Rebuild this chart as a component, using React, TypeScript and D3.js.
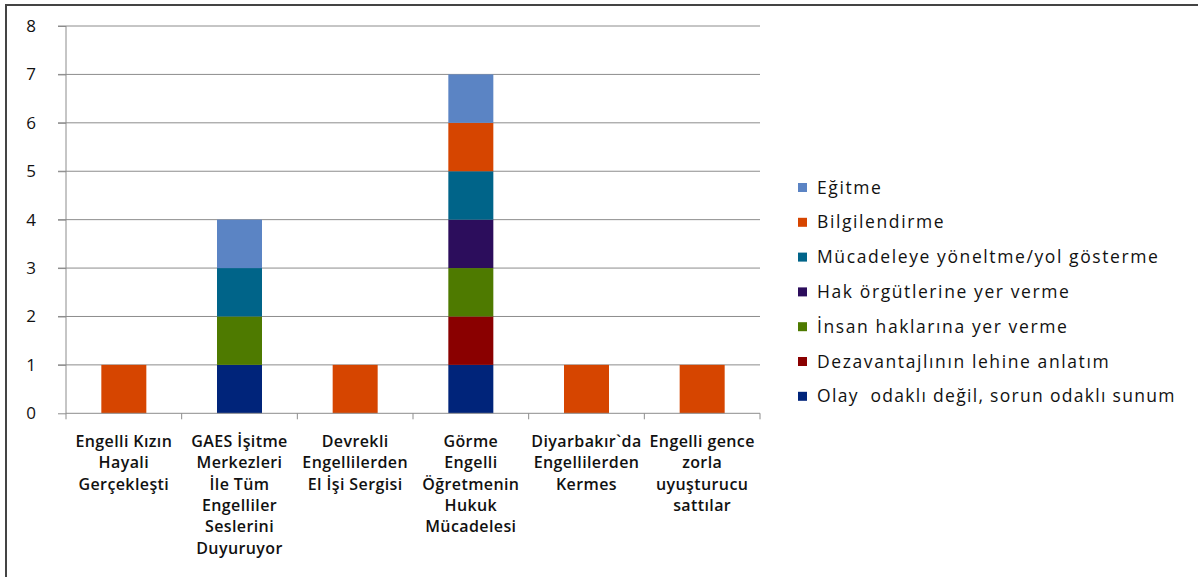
import React, { useEffect, useRef } from 'react';
import * as d3 from 'd3';

const categories = [
  'Engelli Kızın Hayali Gerçekleşti',
  'GAES İşitme Merkezleri İle Tüm Engelliler Seslerini Duyuruyor',
  'Devrekli Engellilerden El İşi Sergisi',
  'Görme Engelli Öğretmenin Hukuk Mücadelesi',
  'Diyarbakır`da Engellilerden Kermes',
  'Engelli gence zorla uyuşturucu sattılar',
];
const categoryLines = [
  ['Engelli Kızın', 'Hayali', 'Gerçekleşti'],
  ['GAES İşitme', 'Merkezleri', 'İle Tüm', 'Engelliler', 'Seslerini', 'Duyuruyor'],
  ['Devrekli', 'Engellilerden', 'El İşi Sergisi'],
  ['Görme', 'Engelli', 'Öğretmenin', 'Hukuk', 'Mücadelesi'],
  ['Diyarbakır`da', 'Engellilerden', 'Kermes'],
  ['Engelli gence', 'zorla', 'uyuşturucu', 'sattılar'],
];

// series, bottom of the stack first
const seriesNames = [
  'Olay  odaklı değil, sorun odaklı sunum',
  'Dezavantajlının lehine anlatım',
  'İnsan haklarına yer verme',
  'Hak örgütlerine yer verme',
  'Mücadeleye yöneltme/yol gösterme',
  'Bilgilendirme',
  'Eğitme',
];
const olay = [0, 1, 0, 1, 0, 0];
const dezavantaj = [0, 0, 0, 1, 0, 0];
const insan = [0, 1, 0, 1, 0, 0];
const hak = [0, 0, 0, 1, 0, 0];
const mucadele = [0, 1, 0, 1, 0, 0];
const bilgi = [1, 0, 1, 1, 1, 1];
const egitme = [0, 1, 0, 1, 0, 0];
const seriesValues = [olay, dezavantaj, insan, hak, mucadele, bilgi, egitme];
const colors = ['#00247a', '#8a0000', '#4e7a00', '#2c0d5c', '#006489', '#d64500', '#5b84c4'];
const yTicks = [0, 1, 2, 3, 4, 5, 6, 7, 8];

const W = 1199;
const H = 577;
const left = 66, right = 760, top = 26, bottom = 413.3;
const font = "'Open Sans', sans-serif";

export default function App() {
  const ref = useRef<SVGSVGElement>(null);

  useEffect(() => {
    const svg = d3.select(ref.current);
    svg.selectAll('*').remove();

    const rows = categories.map((c, i) => {
      const r: any = { cat: c };
      seriesNames.forEach((s, j) => (r[s] = seriesValues[j][i]));
      return r;
    });
    const stacked = d3.stack().keys(seriesNames)(rows);

    const x = d3.scaleBand().domain(categories).range([left, right]).paddingInner(0).paddingOuter(0);
    const y = d3.scaleLinear().domain([0, 8]).range([bottom, top]);
    const barW = 45;

    // frame
    svg.append('path')
      .attr('d', `M6,577 L6,5 L1198,5`)
      .attr('fill', 'none')
      .attr('stroke', '#444')
      .attr('stroke-width', 2);

    // gridlines
    svg.append('g').selectAll('line')
      .data(yTicks.filter(d => d > 0))
      .join('line')
      .attr('x1', left - 8).attr('x2', right)
      .attr('y1', d => y(d)).attr('y2', d => y(d))
      .attr('stroke', '#8c8c8c');

    // bars
    svg.append('g').selectAll('g')
      .data(stacked)
      .join('g')
      .attr('fill', (_, i) => colors[i])
      .selectAll('rect')
      .data(d => d.filter(p => p[1] - p[0] > 0))
      .join('rect')
      .attr('x', (d: any) => x(d.data.cat)! + x.bandwidth() / 2 - barW / 2)
      .attr('width', barW)
      .attr('y', d => y(d[1]))
      .attr('height', d => y(d[0]) - y(d[1]));

    // y axis
    const ya = svg.append('g').attr('transform', `translate(${left},0)`)
      .call(d3.axisLeft(y).tickValues(yTicks).tickFormat(d3.format('d')).tickSize(8).tickPadding(22));
    ya.select('.domain').attr('stroke', '#8c8c8c').attr('d', `M0,${top}V${bottom}`);
    ya.selectAll('.tick line').attr('stroke', '#8c8c8c');
    ya.selectAll('.tick text').attr('font-family', font).attr('font-size', 17).attr('fill', '#111');

    // x axis
    const xa = svg.append('g').attr('transform', `translate(0,${bottom})`)
      .call(d3.axisBottom(x).tickSize(0).tickFormat(() => ''));
    xa.select('.domain').attr('stroke', '#8c8c8c').attr('d', `M${left},0H${right}`);
    xa.selectAll('.tick').remove();
    xa.selectAll('line.sep')
      .data(d3.range(categories.length + 1))
      .join('line')
      .attr('class', 'sep')
      .attr('x1', i => left + i * x.step()).attr('x2', i => left + i * x.step())
      .attr('y1', 0).attr('y2', 6)
      .attr('stroke', '#8c8c8c');

    // category labels
    const lab = svg.append('g').attr('font-family', font).attr('font-size', 16)
      .attr('font-weight', 600).attr('fill', '#111').attr('text-anchor', 'middle')
      .attr('letter-spacing', 0.4);
    categories.forEach((c, i) => {
      const t = lab.append('text').attr('x', x(c)! + x.bandwidth() / 2).attr('y', 447);
      categoryLines[i].forEach((ln, k) => {
        t.append('tspan').attr('x', x(c)! + x.bandwidth() / 2).attr('dy', k === 0 ? 0 : 21.3).text(ln);
      });
    });

    // legend (top entry = top of stack)
    const leg = svg.append('g').attr('font-family', font).attr('font-size', 17.5).attr('fill', '#111');
    const order = seriesNames.slice().reverse();
    order.forEach((s, k) => {
      const yy = 187 + k * 34.8;
      const idx = seriesNames.indexOf(s);
      leg.append('rect').attr('x', 798).attr('y', yy - 4).attr('width', 9).attr('height', 9).attr('fill', colors[idx]);
      leg.append('text').attr('x', 817).attr('y', yy + 6.5)
        .attr('letter-spacing', s.includes('  ') ? 1.3 : 1.6)
        .text(s.replace(/  /g, ' \u00a0'));
    });
  }, []);

  return (
    <svg ref={ref} width={W} height={H}
      style={{ position: 'absolute', left: 0, top: 0, background: '#fff' }} />
  );
}
